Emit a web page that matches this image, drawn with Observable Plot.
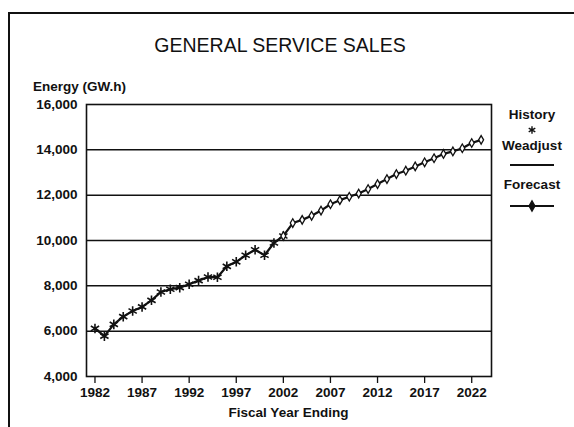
<!DOCTYPE html>
<html>
<head>
<meta charset="utf-8">
<script src="https://cdn.jsdelivr.net/npm/d3@7"></script>
<script src="https://cdn.jsdelivr.net/npm/@observablehq/plot@0.6"></script>
<style>
  html, body { margin: 0; padding: 0; background: #fff; }
  #wrap { position: relative; width: 574px; height: 427px; overflow: hidden; font-family: "Liberation Sans", Arial, sans-serif; color: #111; }
  #border { position: absolute; left: 8px; top: 12px; width: 600px; height: 500px; border-left: 2px solid #111; border-top: 2px solid #111; }
  .t { position: absolute; white-space: nowrap; }
  #title { left: 0; width: 560px; text-align: center; top: 35px; font-size: 19.5px; line-height: 20px; }
  #ylab { left: 33px; top: 79px; font-size: 13.5px; font-weight: bold; }
  #xlab { left: 86px; width: 405px; text-align: center; top: 405px; font-size: 13.5px; font-weight: bold; }
  #legend { position: absolute; left: 497px; top: 106px; width: 70px; text-align: center; font-size: 13.5px; font-weight: bold; }
  #legend div { height: 17px; line-height: 17px; }
  #chart { position: absolute; left: 0; top: 0; }
</style>
</head>
<body>
<div id="wrap">
  <div id="border"></div>
  <div id="chart"></div>
  <div class="t" id="title">GENERAL SERVICE SALES</div>
  <div class="t" id="ylab">Energy (GW.h)</div>
  <div class="t" id="xlab">Fiscal Year Ending</div>
  <div id="legend"></div>
</div>
<script>
// ---- data ----
const historyYears = [1982,1983,1984,1985,1986,1987,1988,1989,1990,1991,1992,1993,1994,1995,1996,1997,1998,1999,2000,2001,2002];
const historyValues = [6120,5780,6300,6640,6890,7070,7360,7730,7850,7920,8070,8230,8390,8380,8860,9060,9350,9590,9350,9890,10200];
const weadjustValues = [6120,5780,6300,6640,6890,7070,7360,7730,7850,7920,8070,8230,8390,8380,8860,9060,9350,9590,9350,9890,10200];
const forecastYears = [2002,2003,2004,2005,2006,2007,2008,2009,2010,2011,2012,2013,2014,2015,2016,2017,2018,2019,2020,2021,2022,2023];
const forecastValues = [10200,10770,10910,11090,11320,11600,11780,11930,12070,12270,12490,12710,12930,13080,13270,13450,13630,13820,13930,14070,14300,14440];
const xTicks = [1982,1987,1992,1997,2002,2007,2012,2017,2022];
const yTicks = [4000,6000,8000,10000,12000,14000,16000];
const gridValues = [6000,8000,10000,12000,14000];
const legendLabels = ["History","Weadjust","Forecast"];

const history = historyYears.map((year, i) => ({year, value: historyValues[i]}));
const weadjust = historyYears.map((year, i) => ({year, value: weadjustValues[i]}));
const forecast = forecastYears.map((year, i) => ({year, value: forecastValues[i]}));

const ink = "#111";
const chart = Plot.plot({
  width: 574,
  height: 427,
  marginLeft: 86,
  marginRight: 83,
  marginTop: 104,
  marginBottom: 51,
  style: {fontFamily: "'Liberation Sans', Arial, sans-serif", fontSize: "13.5px", color: ink, background: "transparent"},
  x: {domain: [1981.1, 2024.1]},
  y: {domain: [4000, 16000]},
  marks: [
    Plot.ruleY(gridValues, {stroke: ink, strokeWidth: 1.5}),
    Plot.frame({stroke: ink, strokeWidth: 1.6}),
    Plot.axisX(xTicks, {tickSize: 7, tickPadding: 4, tickFormat: d => String(d), label: null, fontWeight: "bold", stroke: ink, strokeWidth: 1.3}),
    Plot.axisY(yTicks, {tickSize: 0, tickPadding: 9, tickFormat: d3.format(","), label: null, fontWeight: "bold"}),
    Plot.line(weadjust, {x: "year", y: "value", stroke: ink, strokeWidth: 2.2}),
    Plot.dot(history, {x: "year", y: "value", symbol: "asterisk", r: 4.5, stroke: ink, strokeWidth: 1.6}),
    Plot.line(forecast, {x: "year", y: "value", stroke: ink, strokeWidth: 2.2}),
    Plot.dot(forecast, {x: "year", y: "value", symbol: "diamond", r: 2.6, fill: "#fff", stroke: ink, strokeWidth: 1.3})
  ]
});
document.getElementById("chart").appendChild(chart);

// legend
const lg = document.getElementById("legend");
function row(html, h) { const d = document.createElement("div"); d.innerHTML = html; if (h) { d.style.height = h + "px"; d.style.lineHeight = h + "px"; } lg.appendChild(d); }
function glyph(kind) {
  const svg = d3.create("svg").attr("width", 50).attr("height", 14).style("vertical-align", "middle");
  if (kind !== "star") svg.append("line").attr("x1", 3).attr("x2", 47).attr("y1", 7).attr("y2", 7).attr("stroke", ink).attr("stroke-width", 2.2);
  if (kind === "star") svg.append("path").attr("transform", "translate(25,7)").attr("d", d3.symbol(d3.symbolAsterisk, 40)()).attr("stroke", ink).attr("stroke-width", 1.4).attr("fill", "none");
  if (kind === "diamond") svg.append("path").attr("transform", "translate(25,7)").attr("d", d3.symbol(d3.symbolDiamond, 30)()).attr("stroke", ink).attr("stroke-width", 1.3).attr("fill", ink);
  return svg.node().outerHTML;
}
row(legendLabels[0], 17);
row(glyph("star"), 14);
row(legendLabels[1], 18);
row(glyph("line"), 20);
row(legendLabels[2], 20);
row(glyph("diamond"), 22);
</script>
</body>
</html>
